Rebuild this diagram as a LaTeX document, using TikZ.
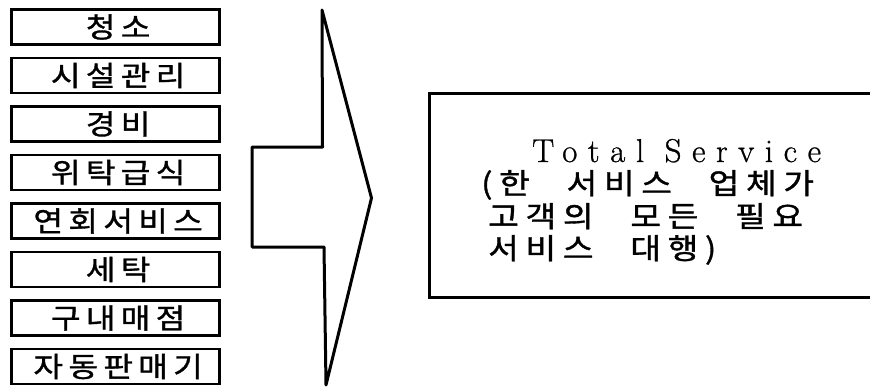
\documentclass[tikz,border=0pt]{standalone}
\usepackage{fontspec}
\newfontfamily\krleft[FakeStretch=1.15,FakeBold=1.2,LetterSpace=19]{Noto Sans CJK KR}
\newfontfamily\krright[FakeStretch=1.15,FakeBold=1.2,LetterSpace=23,WordSpace=2.6]{Noto Sans CJK KR}
\newfontfamily\latwide[LetterSpace=32,FakeBold=0.8]{Latin Modern Roman}
\begin{document}
\begin{tikzpicture}[x=1pt,y=-1pt]
\useasboundingbox (0,0) rectangle (870,388);
\clip (0,0) rectangle (870,388);
\tikzset{
  svcbox/.style={draw, line width=2.6pt, minimum width=208.5pt, minimum height=35pt, inner sep=0pt,
    font=\krleft\fontsize{28}{28}\selectfont},
  bigline/.style={line width=3pt, line join=round},
  boxline/.style={line width=2.6pt},
  rtext/.style={anchor=base west, inner sep=0pt, font=\krright\fontsize{29}{29}\selectfont},
}
\foreach \i/\t in {0/청소,1/시설관리,2/경비,3/위탁급식,4/연회서비스,5/세탁,6/구내매점,7/자동판매기}
  \node[svcbox] (b\i) at (115.5, 27+48.5*\i) {\t\kern-0.19em};
% big arrow
\draw[bigline] (322,10) -- (322.5,147) -- (252,147) -- (252,247) -- (324,247) -- (326,385) -- (371.5,198) -- cycle;
% total service box (open at the right, cut by the page edge)
\coordinate (tnw) at (429.5,93.5);
\coordinate (tsw) at (429.5,297.5);
\coordinate (tne) at (890,93.5);
\coordinate (tse) at (890,297.5);
\draw[boxline] (tne) -- (tnw) -- (tsw) -- (tse);
\node[anchor=base west, inner sep=0pt, font=\latwide\fontsize{33}{33}\selectfont] (t1) at (532,162) {Total Service};
\node[rtext] (t2) at (481,194) {(한 서비스 업체가};
\node[rtext] (t3) at (488,227) {고객의 모든 필요};
\node[rtext] (t4) at (488,259) {서비스 대행)};
\end{tikzpicture}
\end{document}
